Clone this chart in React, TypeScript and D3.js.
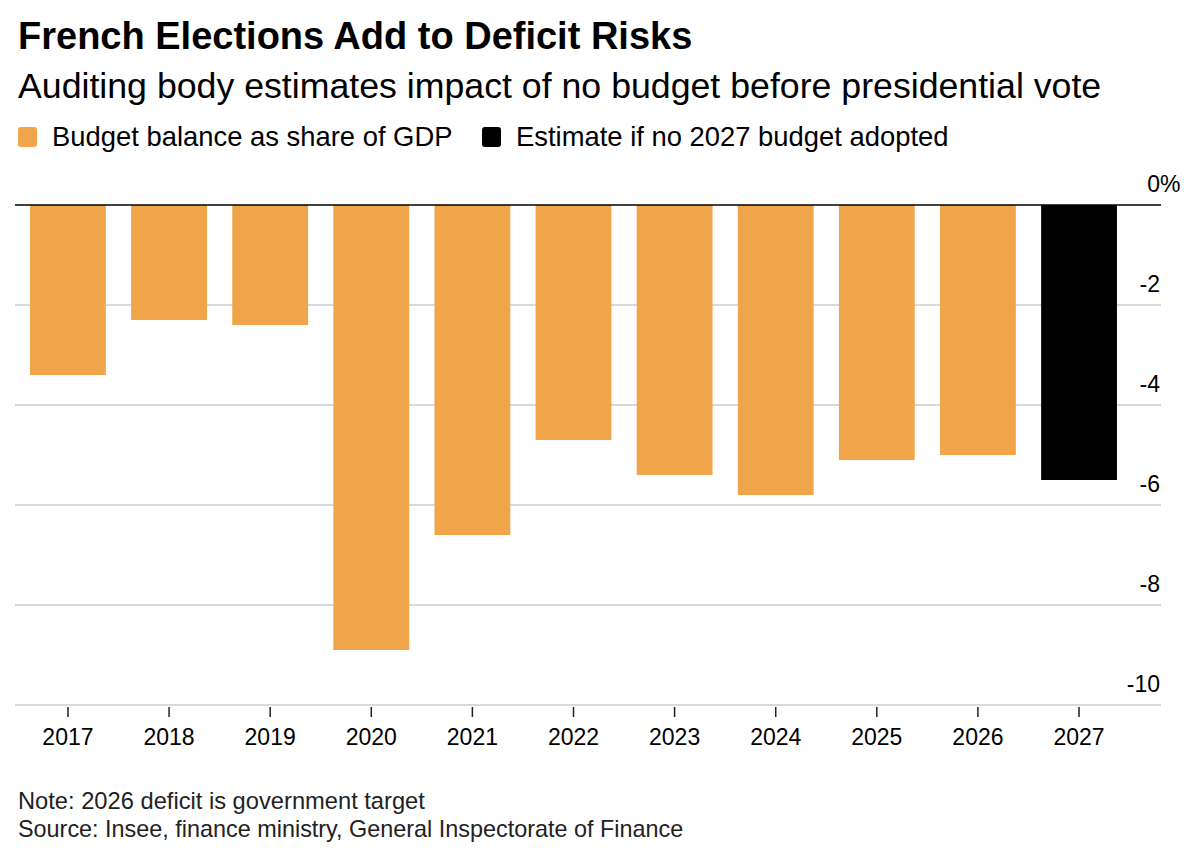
import * as d3 from "d3";
import { useEffect, useRef } from "react";

const years = ["2017", "2018", "2019", "2020", "2021", "2022", "2023", "2024", "2025", "2026", "2027"];
const balance = [-3.4, -2.3, -2.4, -8.9, -6.6, -4.7, -5.4, -5.8, -5.1, -5.0, -5.5];
const isEstimate = [false, false, false, false, false, false, false, false, false, false, true];
const yTicks = [0, -2, -4, -6, -8, -10];
const legendItems = ["Budget balance as share of GDP", "Estimate if no 2027 budget adopted"];

const ORANGE = "#f0a54a";
const FONT = "'Liberation Sans', Arial, Helvetica, sans-serif";

export default function App() {
  const svgRef = useRef<SVGSVGElement | null>(null);

  useEffect(() => {
    if (!svgRef.current) return;
    const width = 1200;
    const height = 862;
    const svg = d3.select(svgRef.current).attr("width", width).attr("height", height);
    svg.selectAll("*").remove();

    const x = d3.scaleBand<string>()
      .domain(years)
      .range([17.4, 1129.6])
      .paddingInner(0.25)
      .paddingOuter(0.125);

    const y = d3.scaleLinear().domain([0, -10]).range([205, 705]);

    // title block
    svg.append("text")
      .attr("x", 18).attr("y", 49)
      .attr("font-family", FONT).attr("font-weight", "bold")
      .attr("font-size", 38).attr("fill", "#000")
      .text("French Elections Add to Deficit Risks");

    svg.append("text")
      .attr("x", 18).attr("y", 98)
      .attr("font-family", FONT).attr("font-size", 35.7).attr("fill", "#000")
      .text("Auditing body estimates impact of no budget before presidential vote");

    // legend
    const legendX = [18, 482];
    legendItems.forEach((label, i) => {
      svg.append("rect")
        .attr("x", legendX[i]).attr("y", 127)
        .attr("width", 19).attr("height", 20)
        .attr("rx", 3)
        .attr("fill", i === 0 ? ORANGE : "#000");
      svg.append("text")
        .attr("x", legendX[i] + 34).attr("y", 146)
        .attr("font-family", FONT).attr("font-size", 27.4).attr("fill", "#000")
        .text(label);
    });

    // gridlines
    svg.append("g")
      .selectAll("line")
      .data(yTicks.filter(d => d !== 0))
      .enter()
      .append("line")
      .attr("x1", 15).attr("x2", 1161)
      .attr("y1", d => y(d)).attr("y2", d => y(d))
      .attr("stroke", "#cccccc").attr("stroke-width", 1.5);

    // bars
    svg.append("g")
      .selectAll("rect")
      .data(years)
      .enter()
      .append("rect")
      .attr("x", d => x(d)!)
      .attr("width", x.bandwidth())
      .attr("y", y(0))
      .attr("height", (_, i) => y(balance[i]) - y(0))
      .attr("fill", (_, i) => (isEstimate[i] ? "#000" : ORANGE));

    // zero line
    svg.append("line")
      .attr("x1", 15).attr("x2", 1161)
      .attr("y1", y(0)).attr("y2", y(0))
      .attr("stroke", "#000").attr("stroke-width", 1.5);

    // y labels on the right
    const yLab = svg.append("g")
      .attr("font-family", FONT).attr("font-size", 23).attr("fill", "#000");
    yTicks.forEach(t => {
      yLab.append("text")
        .attr("x", 1160).attr("y", y(t) - 13)
        .attr("text-anchor", "end")
        .text(t === 0 ? "0" : String(t));
      if (t === 0) {
        yLab.append("text")
          .attr("x", 1160).attr("y", y(t) - 13)
          .text("%");
      }
    });

    // x ticks and labels
    const xAxis = svg.append("g");
    years.forEach(yr => {
      const cx = x(yr)! + x.bandwidth() / 2;
      xAxis.append("line")
        .attr("x1", cx).attr("x2", cx)
        .attr("y1", y(-10) + 2).attr("y2", y(-10) + 12)
        .attr("stroke", "#222").attr("stroke-width", 1.5);
      xAxis.append("text")
        .attr("x", cx).attr("y", 745)
        .attr("text-anchor", "middle")
        .attr("font-family", FONT).attr("font-size", 23).attr("fill", "#000")
        .text(yr);
    });

    // footnotes
    svg.append("text")
      .attr("x", 18).attr("y", 809)
      .attr("font-family", FONT).attr("font-size", 23.7).attr("fill", "#222")
      .text("Note: 2026 deficit is government target");
    svg.append("text")
      .attr("x", 18).attr("y", 837)
      .attr("font-family", FONT).attr("font-size", 23.4).attr("fill", "#222")
      .text("Source: Insee, finance ministry, General Inspectorate of Finance");
  }, []);

  return (
    <svg
      ref={svgRef}
      style={{ position: "absolute", left: 0, top: 0, display: "block", background: "#fff" }}
    />
  );
}
